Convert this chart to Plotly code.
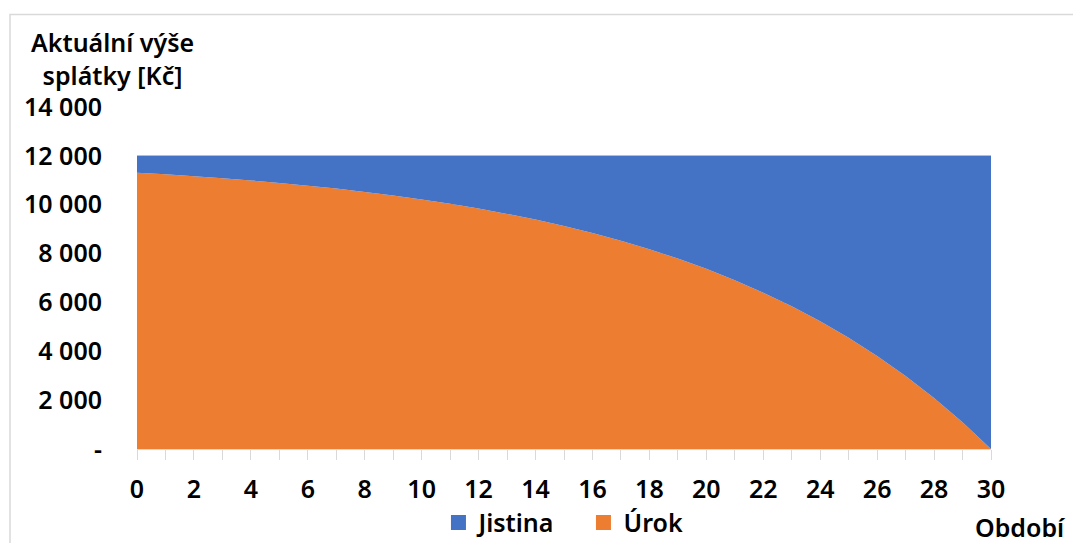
import plotly.graph_objects as go

obdobi = list(range(0, 31))
urok = [11310, 11245, 11170, 11085, 10995, 10890, 10780, 10660, 10525, 10380,
        10215, 10040, 9840, 9625, 9390, 9125, 8840, 8525, 8175, 7795,
        7375, 6910, 6400, 5840, 5225, 4550, 3805, 2985, 2085, 1090, 0]
splatka = 12000
jistina = [splatka - u for u in urok]

y_tickvals = [0, 2000, 4000, 6000, 8000, 10000, 12000, 14000]
y_ticktext = ["-", "2 000", "4 000", "6 000", "8 000", "10 000", "12 000", "14 000"]
x_tickvals = list(range(0, 31, 2))

BLUE = "#4472C4"
ORANGE = "#ED7D31"
FONT = "Noto Sans"
fnt = dict(family=FONT, size=25, color="#000000", weight=600)

fig = go.Figure()
fig.add_trace(go.Scatter(x=obdobi, y=urok, name="Úrok", stackgroup="one",
                         mode="none", fillcolor=ORANGE, showlegend=False))
fig.add_trace(go.Scatter(x=obdobi, y=jistina, name="Jistina", stackgroup="one",
                         mode="none", fillcolor=BLUE, showlegend=False))
# legend entries (square swatches)
fig.add_trace(go.Scatter(x=[None], y=[None], name="Jistina", mode="markers",
                         marker=dict(symbol="square", size=15, color=BLUE)))
fig.add_trace(go.Scatter(x=[None], y=[None], name="Úrok", mode="markers",
                         marker=dict(symbol="square", size=15, color=ORANGE)))

# page body has an 8px margin, so the figure is drawn 8px smaller and margins shifted
fig.update_layout(
    width=1073, height=535,
    margin=dict(l=129, r=90, t=99, b=94, autoexpand=False),
    paper_bgcolor="white", plot_bgcolor="white",
    font=fnt,
    showlegend=True,
    legend=dict(orientation="h", x=0.353, y=-0.216, xanchor="left", yanchor="middle",
                traceorder="normal", font=fnt, itemwidth=30,
                entrywidth=100, entrywidthmode="pixels",
                bgcolor="rgba(0,0,0,0)"),
    xaxis=dict(range=[0, 30], tickvals=x_tickvals, ticks="outside", ticklen=10,
               tickcolor="#d9d9d9", showline=True, linecolor="#d9d9d9",
               showgrid=False, zeroline=False, tickfont=fnt,
               minor=dict(dtick=1, ticks="outside", ticklen=10, tickcolor="#d9d9d9"),
               ticklabelstandoff=8),
    yaxis=dict(range=[0, 14000], tickvals=y_tickvals, ticktext=y_ticktext,
               showgrid=True, gridcolor="#d9d9d9", zeroline=False, ticks="",
               tickfont=fnt, ticklabelstandoff=34),
    annotations=[
        dict(text="Aktuální výše<br>splátky [Kč]", xref="paper", yref="paper",
             x=-0.029, y=1.143, xanchor="center", yanchor="middle",
             showarrow=False, font=fnt, align="center"),
        dict(text="Období", xref="paper", yref="paper",
             x=1.035, y=-0.229, xanchor="center", yanchor="middle",
             showarrow=False, font=fnt),
    ],
    shapes=[
        dict(type="rect", xref="paper", yref="paper", x0=-0.1487, y0=-0.5,
             x1=1.3, y1=1.2705, line=dict(color="#d9d9d9", width=1.5),
             fillcolor="rgba(0,0,0,0)", layer="below"),
    ],
)

fig.write_html("out.html")
